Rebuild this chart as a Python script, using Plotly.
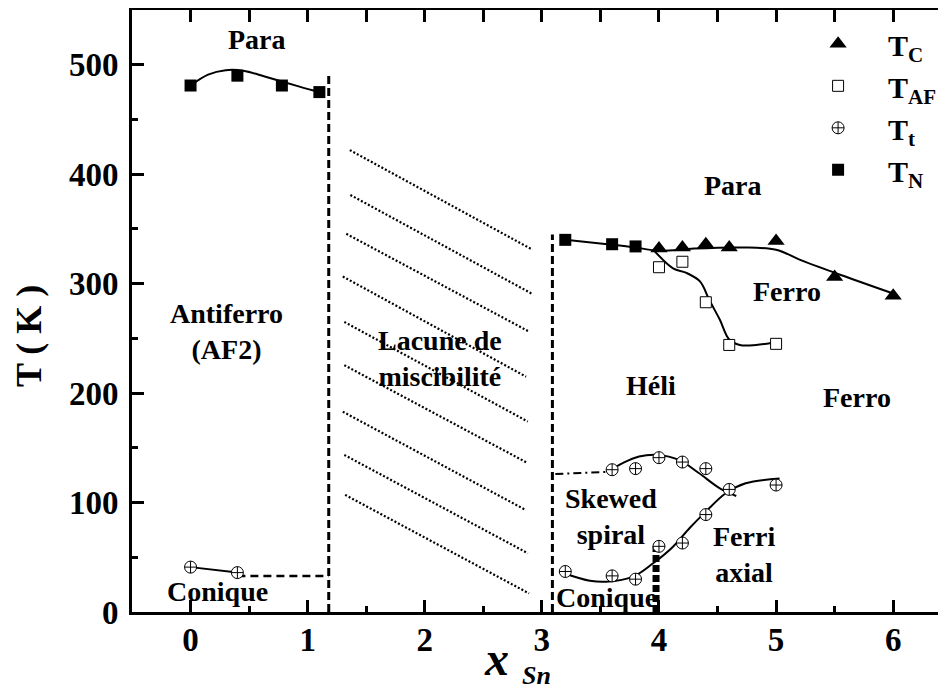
import plotly.graph_objects as go

FONT = '"Liberation Serif", "Times New Roman", Times, serif'

# ---------------- data ----------------
tc_x = [4.0, 4.2, 4.4, 4.6, 5.0, 5.5, 6.0]
tc_y = [332, 333, 336, 333, 339, 306, 289]

taf_x = [4.0, 4.2, 4.4, 4.6, 5.0]
taf_y = [315, 320, 283, 244, 245]

tt_left_x = [0, 0.4]
tt_left_y = [41, 36]
tt_low_x = [3.2, 3.6, 3.8, 4.0, 4.2, 4.4, 5.0]
tt_low_y = [37, 33, 30, 60, 63, 89, 116]
tt_up_x = [3.6, 3.8, 4.0, 4.2, 4.4, 4.6]
tt_up_y = [130, 131, 141, 137, 131, 112]

tn_left_x = [0, 0.4, 0.78, 1.1]
tn_left_y = [481, 490, 481, 475]
tn_right_x = [3.2, 3.6, 3.8]
tn_right_y = [340, 336, 334]

# fitted guide curves
fit_tn_left_x = [0, 0.15, 0.3, 0.45, 0.64, 0.93, 1.1]
fit_tn_left_y = [481, 491, 495, 494.5, 489, 480, 475]
fit_main_x = [3.2, 3.6, 3.8, 4.0, 4.3, 4.7, 5.0, 5.2, 5.5, 6.0]
fit_main_y = [340, 335.5, 333, 330, 332, 333, 331, 322, 310, 291]
fit_taf_x = [3.96, 4.12, 4.23, 4.35, 4.43, 4.52, 4.6, 4.69, 4.83, 4.97]
fit_taf_y = [330, 314, 310, 302, 285, 267, 249, 244, 244, 246]
fit_tt_low_x = [3.2, 3.41, 3.55, 3.78, 3.95, 4.12, 4.26, 4.4, 4.57, 4.74, 5.03]
fit_tt_low_y = [35, 28.6, 27.7, 32.3, 44.5, 59.7, 76.5, 91.7, 108.5, 117.6, 122]
fit_tt_up_x = [3.56, 3.69, 3.83, 3.99, 4.17, 4.34, 4.52, 4.66]
fit_tt_up_y = [128, 136, 142, 143.5, 139, 127, 113, 106]

# phase boundaries
gap_left_x = [1.18, 1.18]
gap_left_y = [0, 490]
conique_left_x = [0.4, 1.18]
conique_left_y = [33, 33]
gap_right_x = [3.09, 3.09]
gap_right_y = [0, 345]
dashdot_x = [3.115, 3.55]
dashdot_y = [126, 128]
ferri_x = [3.975, 3.975]
ferri_y = [0, 60]

# hatching of the miscibility gap
hatch_x0 = [1.36, 1.365, 1.33, 1.30, 1.313, 1.313, 1.30, 1.313, 1.32]
hatch_y0 = [422, 381, 345.5, 306.5, 265, 225.5, 183, 143.5, 107]
hatch_x1 = [2.92, 2.92, 2.894, 2.865, 2.88, 2.88, 2.865, 2.88, 2.89]
hatch_y1 = [331, 290.5, 256, 215, 174, 136, 93, 53.7, 17]

# region labels
label_text = ["Para", "Antiferro<br>(AF2)", "Lacune de<br>miscibilité", "Para", "Ferro",
              "Héli", "Ferro", "Skewed<br>spiral", "Ferri<br>axial", "Conique", "Conique"]
label_x = [0.57, 0.31, 2.13, 4.63, 5.09, 3.93, 5.69, 3.59, 4.73, 3.55, 0.23]
label_y = [523, 256, 232, 390, 292.5, 206.6, 195.6, 87, 52.6, 12.8, 19]

x_ticks = [0, 1, 2, 3, 4, 5, 6]
y_ticks = [0, 100, 200, 300, 400, 500]
x_range = [-0.5, 6.451]
y_range = [0, 550]

# ---------------- figure ----------------
fig = go.Figure()

def line(x, y, dash="solid", width=2, shape="spline"):
    fig.add_trace(go.Scatter(x=x, y=y, mode="lines", showlegend=False, hoverinfo="skip",
                             line=dict(color="black", width=width, dash=dash, shape=shape)))

# hatching
hx, hy = [], []
for a, b, c, d in zip(hatch_x0, hatch_y0, hatch_x1, hatch_y1):
    hx += [a, c, None]
    hy += [b, d, None]
line(hx, hy, dash="2px,2px", width=2.2, shape="linear")

# boundaries
line(gap_left_x, gap_left_y, dash="8px,4px", width=3, shape="linear")
line(conique_left_x, conique_left_y, dash="8px,5px", width=2.5, shape="linear")
line(gap_right_x, gap_right_y, dash="8px,4px", width=3, shape="linear")
line(dashdot_x, dashdot_y, dash="8px,4px,2px,4px", width=2, shape="linear")
line(ferri_x, ferri_y, dash="7px,3px", width=7, shape="linear")

# guide curves
line(fit_tn_left_x, fit_tn_left_y)
line(fit_main_x, fit_main_y)
line(fit_taf_x, fit_taf_y)
line(fit_tt_low_x, fit_tt_low_y)
line(fit_tt_up_x, fit_tt_up_y)
line(tt_left_x, tt_left_y, shape="linear")

# markers (legend order: Tc, Taf, Tt, Tn)
fig.add_trace(go.Scatter(x=tc_x, y=tc_y, mode="markers", name="T<sub>C</sub>",
                         marker=dict(symbol="triangle-up", size=15, color="black")))
fig.add_trace(go.Scatter(x=taf_x, y=taf_y, mode="markers", name="T<sub>AF</sub>",
                         marker=dict(symbol="square", size=11, color="white",
                                     line=dict(color="black", width=1))))
fig.add_trace(go.Scatter(x=tt_left_x + [None] + tt_low_x + [None] + tt_up_x,
                         y=tt_left_y + [None] + tt_low_y + [None] + tt_up_y,
                         mode="markers", name="T<sub>t</sub>",
                         marker=dict(symbol="circle-cross", size=12, color="white",
                                     line=dict(color="black", width=1))))
fig.add_trace(go.Scatter(x=tn_left_x + [None] + tn_right_x,
                         y=tn_left_y + [None] + tn_right_y,
                         mode="markers", name="T<sub>N</sub>",
                         marker=dict(symbol="square", size=12, color="black")))

# helper axes for top / right ticks
fig.add_trace(go.Scatter(x=[None], y=[None], xaxis="x2", yaxis="y2", showlegend=False))

bold = dict(family=FONT, size=28, color="black", weight="bold")
for t, x, y in zip(label_text, label_x, label_y):
    fig.add_annotation(x=x, y=y, text=t, showarrow=False, font=bold, xanchor="center", yanchor="middle")

# axis titles
fig.add_annotation(xref="paper", yref="paper", x=-0.1265, y=0.4585, text="T ( K )", textangle=-90,
                   showarrow=False, xanchor="center", yanchor="middle",
                   font=dict(family=FONT, size=36, color="black", weight="bold"))
fig.add_annotation(xref="paper", yref="paper", x=0.4484, y=-0.077, text="x", showarrow=False,
                   xanchor="center", yanchor="middle",
                   font=dict(family=FONT, size=48, color="black", weight="bold", style="italic"))
fig.add_annotation(xref="paper", yref="paper", x=0.4975, y=-0.1063, text="Sn", showarrow=False,
                   xanchor="center", yanchor="middle",
                   font=dict(family=FONT, size=26, color="black", weight="bold", style="italic"))

tickfont = dict(family=FONT, size=33, color="black", weight="bold")
# the page body keeps an 8 px margin, so the figure is 8 px smaller than the window
fig.update_layout(
    template="none",
    width=938, height=685,
    margin=dict(l=124, r=0, t=2, b=81, autoexpand=False),
    plot_bgcolor="white", paper_bgcolor="white",
    font=dict(family=FONT, color="black"),
    xaxis=dict(range=x_range, tickvals=x_ticks, ticks="inside", ticklen=12, tickwidth=3,
               tickcolor="black", showline=True, linewidth=3, linecolor="black", mirror=True,
               showgrid=False, zeroline=False, tickfont=tickfont, automargin=False,
               ticklabelstandoff=-4,
               minor=dict(dtick=0.5, tick0=0, ticks="inside", ticklen=6, tickwidth=3,
                          tickcolor="black", showgrid=False)),
    yaxis=dict(range=y_range, tickvals=y_ticks, ticks="inside", ticklen=12, tickwidth=3,
               tickcolor="black", showline=True, linewidth=3, linecolor="black", mirror=False,
               showgrid=False, zeroline=False, tickfont=tickfont, automargin=False,
               ticklabelstandoff=4,
               minor=dict(dtick=50, tick0=0, ticks="inside", ticklen=6, tickwidth=3,
                          tickcolor="black", showgrid=False)),
    xaxis2=dict(range=x_range, overlaying="x", side="top", anchor="y", dtick=0.5, tick0=0,
                ticks="inside", ticklen=12, tickwidth=3, tickcolor="black", automargin=False,
                showticklabels=False, showline=False, showgrid=False, zeroline=False),
    yaxis2=dict(range=y_range, overlaying="y", side="right", anchor="x", dtick=100, tick0=0,
                ticks="inside", ticklen=7, tickwidth=3, tickcolor="black", automargin=False,
                showticklabels=False, showline=False, showgrid=False, zeroline=False,
                minor=dict(dtick=50, tick0=0, ticks="inside", ticklen=2, tickwidth=3,
                           tickcolor="black", showgrid=False)),
    showlegend=True,
    legend=dict(x=0.806, y=0.987, xanchor="left", yanchor="top", bgcolor="rgba(0,0,0,0)",
                itemwidth=90, font=dict(family=FONT, size=30, color="black", weight="bold"),
                tracegroupgap=0),
)

fig.write_html("out.html")
